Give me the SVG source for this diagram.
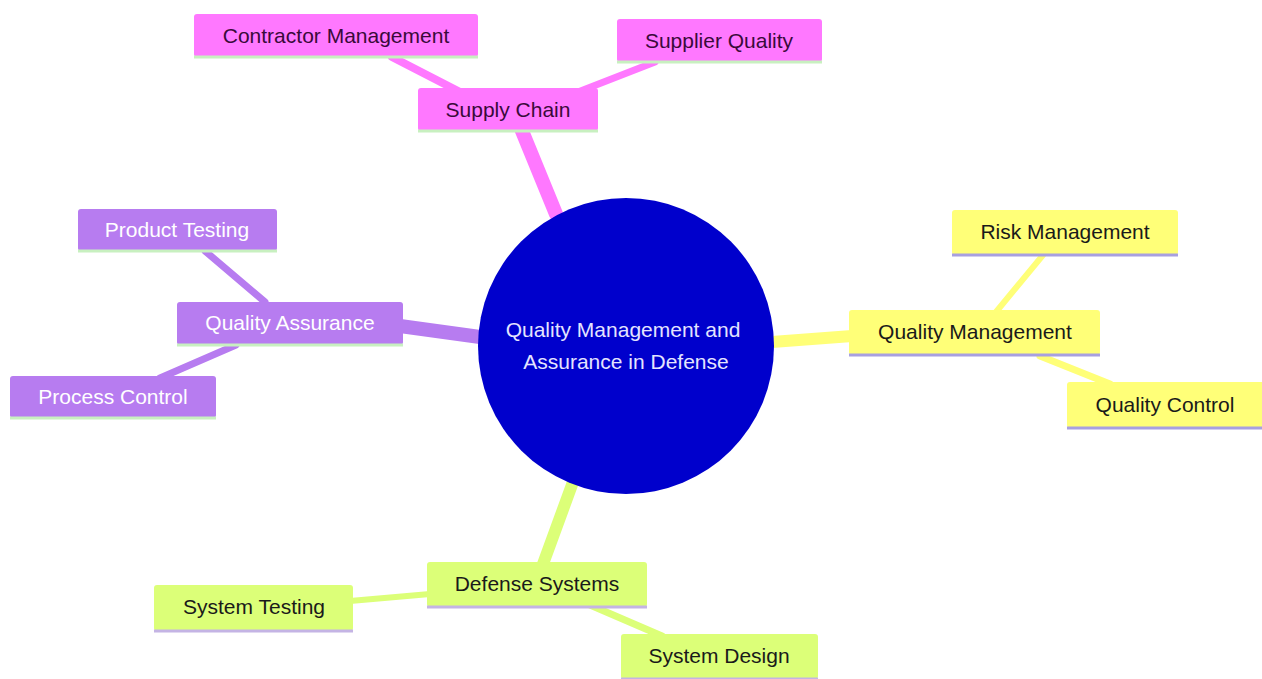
<svg xmlns="http://www.w3.org/2000/svg" width="1262" height="679" viewBox="0 0 1262 679">
<style>
text{font-family:"Liberation Sans",Arial,sans-serif;font-size:21px;text-anchor:middle}
.pk rect{fill:#ff78ff}.pk text{fill:#3a0a3a}.pk line{stroke:#c8f0c0}
.pu rect{fill:#b77cf0}.pu text{fill:#ffffff}.pu line{stroke:#c8f0c0}
.ye rect{fill:#ffff78}.ye text{fill:#1a1a1a}.ye line{stroke:#a8a0e0}
.gr rect{fill:#dcff78}.gr text{fill:#1a1a1a}.gr line{stroke:#c4b4e4}
.node line{stroke-width:3}
#edges line{stroke-linecap:round}
</style>
<rect width="1262" height="679" fill="#ffffff"/>
<g id="edges">
<line x1="556" y1="214" x2="520" y2="126" stroke="#ff78ff" stroke-width="14"/>
<line x1="460" y1="92" x2="392" y2="57" stroke="#ff78ff" stroke-width="8"/>
<line x1="578" y1="92" x2="655" y2="62" stroke="#ff78ff" stroke-width="7"/>
<line x1="480" y1="337" x2="400" y2="326" stroke="#b77cf0" stroke-width="14"/>
<line x1="265" y1="302" x2="205" y2="251" stroke="#b77cf0" stroke-width="7"/>
<line x1="236" y1="345" x2="160" y2="378" stroke="#b77cf0" stroke-width="7"/>
<line x1="772" y1="342" x2="852" y2="336" stroke="#ffff78" stroke-width="12"/>
<line x1="996" y1="312" x2="1043" y2="255" stroke="#ffff78" stroke-width="6"/>
<line x1="1040" y1="356" x2="1110" y2="384" stroke="#ffff78" stroke-width="7"/>
<line x1="573" y1="482" x2="543" y2="564" stroke="#dcff78" stroke-width="12"/>
<line x1="430" y1="594" x2="350" y2="601" stroke="#dcff78" stroke-width="6"/>
<line x1="590" y1="605" x2="662" y2="636" stroke="#dcff78" stroke-width="7"/>
</g>
<g id="root">
<circle cx="626" cy="346" r="148" fill="#0000cc"/>
<text x="623" y="337" fill="#e4e4ff">Quality Management and</text>
<text x="626" y="369" fill="#e4e4ff">Assurance in Defense</text>
</g>
<g id="supply-chain" class="node pk"><rect x="418" y="88" width="180" height="43" rx="3"/><line x1="418" y1="131" x2="598" y2="131"/><text x="508" y="117">Supply Chain</text></g>
<g id="contractor-management" class="node pk"><rect x="194" y="14" width="284" height="43" rx="3"/><line x1="194" y1="57" x2="478" y2="57"/><text x="336" y="43">Contractor Management</text></g>
<g id="supplier-quality" class="node pk"><rect x="617" y="19" width="205" height="43" rx="3"/><line x1="617" y1="62" x2="822" y2="62"/><text x="719" y="48">Supplier Quality</text></g>
<g id="quality-assurance" class="node pu"><rect x="177" y="302" width="226" height="43" rx="3"/><line x1="177" y1="345" x2="403" y2="345"/><text x="290" y="330">Quality Assurance</text></g>
<g id="product-testing" class="node pu"><rect x="78" y="209" width="199" height="42" rx="3"/><line x1="78" y1="251" x2="277" y2="251"/><text x="177" y="237">Product Testing</text></g>
<g id="process-control" class="node pu"><rect x="10" y="376" width="206" height="42" rx="3"/><line x1="10" y1="418" x2="216" y2="418"/><text x="113" y="404">Process Control</text></g>
<g id="quality-management" class="node ye"><rect x="849" y="310" width="251" height="45" rx="3"/><line x1="849" y1="355" x2="1100" y2="355"/><text x="975" y="339">Quality Management</text></g>
<g id="risk-management" class="node ye"><rect x="952" y="210" width="226" height="45" rx="3"/><line x1="952" y1="255" x2="1178" y2="255"/><text x="1065" y="239">Risk Management</text></g>
<g id="quality-control" class="node ye"><rect x="1067" y="382" width="197" height="46" rx="3"/><line x1="1067" y1="428" x2="1262" y2="428"/><text x="1165" y="412">Quality Control</text></g>
<g id="defense-systems" class="node gr"><rect x="427" y="562" width="220" height="45" rx="3"/><line x1="427" y1="607" x2="647" y2="607"/><text x="537" y="591">Defense Systems</text></g>
<g id="system-testing" class="node gr"><rect x="154" y="585" width="199" height="46" rx="3"/><line x1="154" y1="631" x2="353" y2="631"/><text x="254" y="614">System Testing</text></g>
<g id="system-design" class="node gr"><rect x="621" y="634" width="197" height="45" rx="3"/><line x1="621" y1="679" x2="818" y2="679"/><text x="719" y="663">System Design</text></g>
</svg>
